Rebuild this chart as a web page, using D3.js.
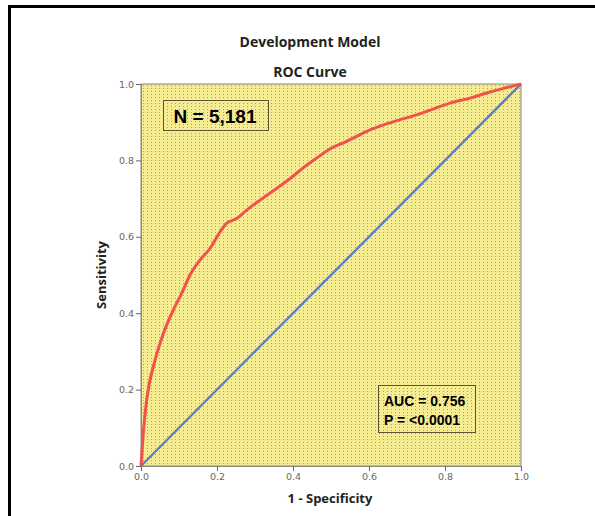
<!DOCTYPE html>
<html>
<head>
<meta charset="utf-8">
<script src="https://cdn.jsdelivr.net/npm/d3@7"></script>
<style>
  body { margin: 0; background: #fff; }
  svg { display: block; }
  .tick text { font-family: "DejaVu Sans", sans-serif; font-size: 9.5px; fill: #666; }
  .tick line { stroke: #666; }
  .domain { stroke: #888; }
</style>
</head>
<body>
<svg width="595" height="516"></svg>
<script>
// ROC points: 1 - specificity, sensitivity
const fpr = [0, 0.006, 0.015, 0.037, 0.059, 0.085, 0.107, 0.129, 0.155, 0.182, 0.203, 0.225, 0.252, 0.278, 0.313, 0.35, 0.392, 0.43, 0.458, 0.497, 0.537, 0.603, 0.68, 0.708, 0.77, 0.813, 0.866, 0.918, 0.96, 1];
const tpr = [0, 0.086, 0.173, 0.277, 0.347, 0.408, 0.452, 0.5, 0.539, 0.57, 0.605, 0.635, 0.648, 0.67, 0.696, 0.722, 0.752, 0.783, 0.803, 0.83, 0.848, 0.88, 0.906, 0.914, 0.935, 0.95, 0.963, 0.979, 0.99, 1];
const refLine = [0, 1];
const tickValues = [0, 0.2, 0.4, 0.6, 0.8, 1.0];
const titles = ["Development Model", "ROC Curve"];
const nLabel = "N = 5,181";
const statLines = ["AUC = 0.756", "P = <0.0001"];

window.onload = () => {
  const svg = d3.select("svg");
  const plot = { left: 141, right: 521, top: 84, bottom: 466 };

  const x = d3.scaleLinear().domain([0, 1]).range([plot.left, plot.right]);
  const y = d3.scaleLinear().domain([0, 1]).range([plot.bottom, plot.top]);

  // outer frame (only top + left visible)
  svg.append("path")
    .attr("d", "M9.5,516 L9.5,6.5 L595,6.5")
    .attr("fill", "none")
    .attr("stroke", "#000")
    .attr("stroke-width", 3);

  // dotted yellow fill
  const defs = svg.append("defs");
  const pat = defs.append("pattern")
    .attr("id", "dots")
    .attr("patternUnits", "userSpaceOnUse")
    .attr("x", plot.left).attr("y", plot.top)
    .attr("width", 4).attr("height", 3);
  pat.append("rect").attr("width", 4).attr("height", 3).attr("fill", "#f6ec92");
  pat.append("rect").attr("x", 2).attr("y", 1).attr("width", 1).attr("height", 1).attr("fill", "#a9a166");

  svg.append("rect")
    .attr("x", plot.left).attr("y", plot.top)
    .attr("width", plot.right - plot.left).attr("height", plot.bottom - plot.top)
    .attr("fill", "url(#dots)")
    .attr("stroke", "#888");

  svg.append("g")
    .attr("transform", `translate(0,${plot.bottom})`)
    .call(d3.axisBottom(x).tickValues(tickValues).tickFormat(d3.format(".1f")).tickSize(5).tickPadding(2));

  svg.append("g")
    .attr("transform", `translate(${plot.left},0)`)
    .call(d3.axisLeft(y).tickValues(tickValues).tickFormat(d3.format(".1f")).tickSize(5).tickPadding(2));

  // reference diagonal
  svg.append("path")
    .datum(refLine)
    .attr("d", d3.line().x(d => x(d)).y(d => y(d)))
    .attr("fill", "none")
    .attr("stroke", "#5a7fc6")
    .attr("stroke-width", 2.4);

  // ROC curve
  const pts = fpr.map((f, i) => [f, tpr[i]]);
  svg.append("path")
    .datum(pts)
    .attr("d", d3.line().x(d => x(d[0])).y(d => y(d[1])).curve(d3.curveMonotoneX))
    .attr("fill", "none")
    .attr("stroke", "#f0534c")
    .attr("stroke-width", 3)
    .attr("stroke-linejoin", "round");

  // titles
  svg.selectAll("text.title")
    .data(titles)
    .enter().append("text")
      .attr("class", "title")
      .attr("x", 310)
      .attr("y", (d, i) => 47 + i * 30)
      .attr("text-anchor", "middle")
      .style("font-family", "'Open Sans', 'DejaVu Sans', sans-serif")
      .style("font-size", "14px")
      .style("font-weight", "bold")
      .style("fill", "#222")
      .text(d => d);

  svg.append("text")
    .attr("x", 330).attr("y", 503)
    .attr("text-anchor", "middle")
    .style("font-family", "'Open Sans', 'DejaVu Sans', sans-serif")
    .style("font-size", "13px")
    .style("font-weight", "bold")
    .style("fill", "#222")
    .text("1 - Specificity");

  svg.append("text")
    .attr("transform", `translate(106,${(plot.top + plot.bottom) / 2}) rotate(-90)`)
    .attr("text-anchor", "middle")
    .style("font-family", "'Open Sans', 'DejaVu Sans', sans-serif")
    .style("font-size", "13px")
    .style("font-weight", "bold")
    .style("fill", "#222")
    .text("Sensitivity");

  // N box
  svg.append("rect")
    .attr("x", 163.5).attr("y", 100.5).attr("width", 105).attr("height", 30)
    .attr("fill", "none").attr("stroke", "#5a5530");
  svg.append("text")
    .attr("x", 215).attr("y", 123)
    .attr("text-anchor", "middle")
    .style("font-family", "'Liberation Sans', Arial, sans-serif")
    .style("font-size", "19px")
    .style("font-weight", "bold")
    .text(nLabel);

  // AUC box
  svg.append("rect")
    .attr("x", 378.5).attr("y", 385.5).attr("width", 97).attr("height", 47)
    .attr("fill", "none").attr("stroke", "#5a5530");
  svg.selectAll("text.stat")
    .data(statLines)
    .enter().append("text")
      .attr("class", "stat")
      .attr("x", 384)
      .attr("y", (d, i) => 406 + i * 19)
      .style("font-family", "'Liberation Sans', Arial, sans-serif")
      .style("font-size", "14px")
      .style("font-weight", "bold")
      .text(d => d);
};
</script>
</body>
</html>
